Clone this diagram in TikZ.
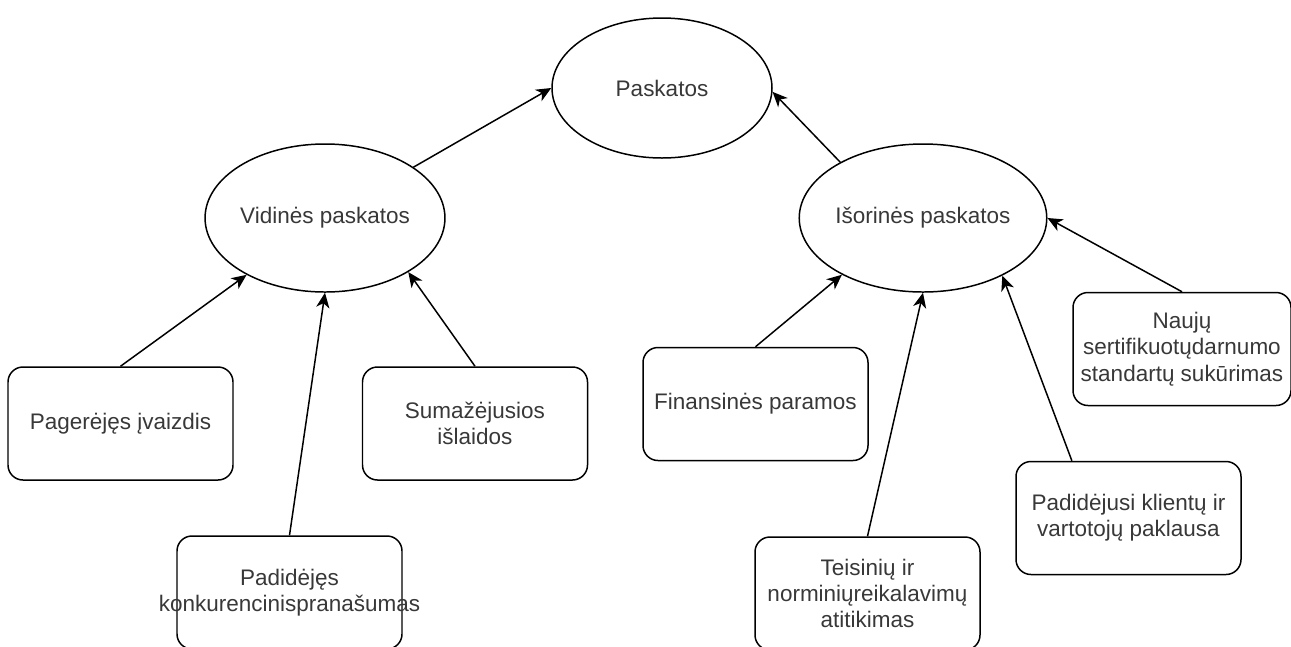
\documentclass[tikz,border=0pt]{standalone}
\usepackage{fontspec}
\setmainfont{Liberation Sans}
\usetikzlibrary{shapes.geometric,arrows.meta,calc}
\begin{document}
\begin{tikzpicture}[x=1cm,y=1cm,
  oval/.style={draw, ellipse, line width=0.85pt, inner sep=0pt, minimum width=4.4cm, minimum height=2.96cm, text=black!78, font=\fontsize{12.8}{15}\selectfont},
  card/.style={draw, rounded corners=0.3cm, line width=0.85pt, inner sep=0pt, align=center, minimum width=4.5cm, minimum height=2.26cm, text=black!78, font=\fontsize{12.8}{15}\selectfont},
  link/.style={line width=0.85pt, -{Stealth[length=8.5pt,width=7.5pt,inset=2.5pt]}}]
\useasboundingbox (0,0) rectangle (25.82,-12.92);
\node[oval, minimum height=2.8cm] (pask) at (13.24,-1.76) {Paskatos};
\node[oval] (vid) at (6.5,-4.36) {Vidinės paskatos};
\node[oval] (iso) at (18.46,-4.36) {Išorinės paskatos};
\node[card] (pag) at (2.41,-8.47) {Pagerėjęs įvaizdis};
\node[card] (sum) at (9.5,-8.47) {Sumažėjusios\\ išlaidos};
\node[card] (pad) at (5.79,-11.85) {Padidėjęs\\ \makebox[4cm]{konkurencinispranašumas}};
\node[card] (fin) at (15.11,-8.08) {Finansinės paramos};
\node[card] (tei) at (17.35,-11.87) {Teisinių ir\\ norminiųreikalavimų\\ atitikimas};
\node[card] (padk) at (22.57,-10.36) {Padidėjusi klientų ir\\ vartotojų paklausa};
\node[card, minimum width=4.36cm] (nau) at (23.64,-6.98) {Naujų\\ sertifikuotųdarnumo\\ standartų sukūrimas};
\draw[link] (vid) -- (pask.west);
\draw[link] (iso.146) -- (pask.-2);
\draw[link] (pag.north) -- (vid);
\draw[link] (pad.north) -- (vid.south);
\draw[link] (sum.north) -- (vid.-33);
\draw[link] (fin.north) -- (iso.215);
\draw[link] (tei.north) -- (iso.south);
\draw[link] ($(padk.north west)!0.25!(padk.north east)$) -- (iso.-36);
\draw[link] (nau.north) -- (iso.east);
\end{tikzpicture}
\end{document}
